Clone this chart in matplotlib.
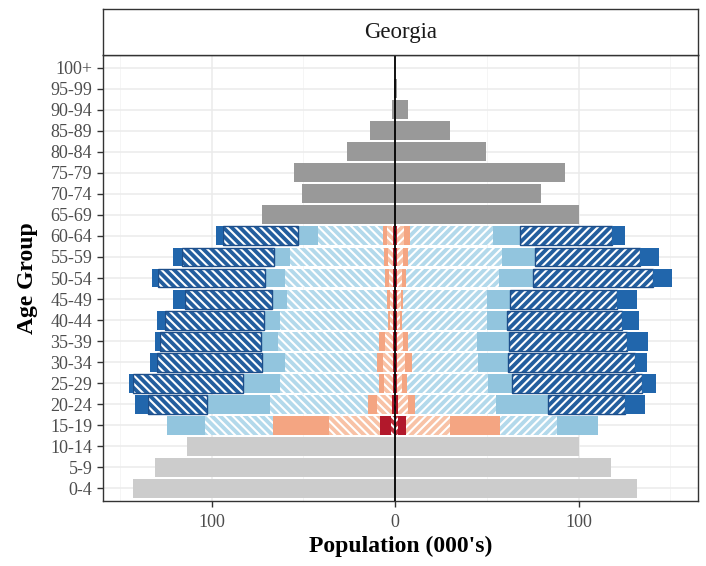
import matplotlib
matplotlib.use('Agg')
import matplotlib.pyplot as plt
import numpy as np

plt.rcParams['font.family'] = ['Liberation Serif', 'DejaVu Serif']
plt.rcParams['hatch.linewidth'] = 1.5

ages = ['0-4', '5-9', '10-14', '15-19', '20-24', '25-29', '30-34', '35-39',
        '40-44', '45-49', '50-54', '55-59', '60-64', '65-69', '70-74',
        '75-79', '80-84', '85-89', '90-94', '95-99', '100+']

# children (0-14) and elderly (65+), thousands
young_m = [142.6, 130.8, 113.5]
young_f = [131.7, 117.7, 100.0]
old_m = [72.5, 50.7, 55.0, 26.0, 13.6, 1.6, 0.5, 0.2]
old_f = [100.3, 79.6, 92.6, 49.6, 30.0, 6.9, 1.0, 0.2]

# working ages 15-19 .. 60-64, segments from centre outwards
m_red_h = [2.0, 0.5, 0.5, 0.5, 0.5, 0.5, 0.5, 0.5, 0.5, 0.5]
m_red_s = [6.2, 1.0, 0.8, 0.8, 0.8, 0.7, 0.7, 0.7, 0.8, 0.8]
m_org_h = [27.6, 8.5, 4.7, 5.2, 4.2, 1.3, 1.8, 2.3, 2.7, 2.9]
m_org_s = [30.5, 4.5, 3.0, 3.5, 3.5, 1.5, 1.5, 1.8, 2.2, 2.6]
m_lbl_h = [37.2, 53.6, 53.7, 49.9, 54.6, 58.7, 54.5, 54.6, 51.0, 35.0]
m_lbl_s = [20.9, 34.5, 20.3, 12.4, 9.6, 8.7, 7.9, 10.9, 8.7, 10.9]
m_dbl_h = [0.0, 31.8, 59.6, 57.2, 54.8, 53.9, 47.5, 58.2, 50.4, 40.9]
m_dbl_s = [0.0, 7.3, 2.4, 4.0, 2.8, 4.2, 6.4, 3.6, 4.9, 3.9]

f_red_h = [1.5, 0.5, 0.5, 0.5, 0.5, 0.5, 0.5, 0.5, 0.5, 0.5]
f_red_s = [4.5, 1.0, 0.8, 0.8, 0.8, 0.7, 0.7, 0.7, 0.8, 0.8]
f_org_h = [24.0, 5.5, 2.7, 4.2, 3.2, 1.3, 1.8, 2.8, 3.2, 3.7]
f_org_s = [27.2, 3.9, 2.4, 3.5, 2.8, 1.5, 1.5, 2.0, 2.5, 3.0]
f_lbl_h = [31.3, 44.1, 44.5, 36.0, 37.2, 46.0, 45.5, 50.7, 51.1, 45.6]
f_lbl_s = [22.3, 28.6, 12.7, 16.4, 17.5, 10.9, 12.7, 18.7, 18.2, 14.5]
f_dbl_h = [0.0, 41.7, 70.8, 69.4, 64.5, 62.6, 58.1, 65.4, 57.2, 50.0]
f_dbl_s = [0.0, 10.9, 7.6, 6.7, 11.3, 9.5, 10.9, 10.0, 10.4, 7.2]

# solid colour and the (paler) fill used under the white stripes
red, orange, lblue, dblue = '#b2182b', '#f4a582', '#92c5de', '#2166ac'
pale = {red: '#c0323f', orange: '#f8c2a6', lblue: '#b3d9eb', dblue: '#235e9e'}

fig = plt.figure(figsize=(7.06, 5.66), dpi=100)
ax = fig.add_axes([0.1455, 0.1148, 0.8432, 0.788])
strip = fig.add_axes([0.1455, 0.9028, 0.8432, 0.0808])

ypos = np.arange(len(ages))
y_young = ypos[0:3]
y_work = ypos[3:13]
y_old = ypos[13:]
bh = 0.9

ax.barh(y_young, young_m, left=-np.array(young_m), height=bh, color='#cccccc', lw=0)
ax.barh(y_young, young_f, height=bh, color='#cccccc', lw=0)
ax.barh(y_old, old_m, left=-np.array(old_m), height=bh, color='#999999', lw=0)
ax.barh(y_old, old_f, height=bh, color='#999999', lw=0)

segs_m = [(m_red_h, red, True), (m_red_s, red, False),
          (m_org_h, orange, True), (m_org_s, orange, False),
          (m_lbl_h, lblue, True), (m_lbl_s, lblue, False),
          (m_dbl_h, dblue, True), (m_dbl_s, dblue, False)]
segs_f = [(f_red_h, red, True), (f_red_s, red, False),
          (f_org_h, orange, True), (f_org_s, orange, False),
          (f_lbl_h, lblue, True), (f_lbl_s, lblue, False),
          (f_dbl_h, dblue, True), (f_dbl_s, dblue, False)]

for side, segs in ((-1, segs_m), (1, segs_f)):
    cum = np.zeros(len(y_work))
    for vals, col, hatched in segs:
        w = np.array(vals)
        left = cum if side > 0 else -(cum + w)
        if hatched:
            ax.barh(y_work, w, left=left, height=bh, color=pale[col],
                    edgecolor='white', lw=0,
                    hatch='////' if side > 0 else '\\\\\\\\')
            if col == dblue:
                mask = w > 0
                ax.barh(y_work[mask], w[mask], left=left[mask], height=bh,
                        fill=False, edgecolor='#1d4e8a', lw=1.0)
        else:
            ax.barh(y_work, w, left=left, height=bh, color=col, lw=0)
        cum = cum + w

ax.axvline(0, color='black', lw=1.3, zorder=5)

ax.set_xlim(-159.3, 165.1)
ax.set_ylim(-0.6, len(ages) - 0.4)
ax.set_xticks([-100, 0, 100])
ax.set_xticklabels(['100', '0', '100'])
ax.set_xticks([-150, -50, 50, 150], minor=True)
ax.set_yticks(ypos)
ax.set_yticklabels(ages)
ax.tick_params(axis='both', which='major', colors='#333333', labelcolor='#4d4d4d',
               labelsize=13, length=4, width=1)
ax.tick_params(axis='x', which='major', pad=5)
ax.tick_params(axis='x', which='minor', length=0)
ax.grid(True, which='major', color='#ebebeb', lw=1.1)
ax.grid(True, which='minor', axis='x', color='#f4f4f4', lw=0.6)
ax.set_axisbelow(True)
for s in ax.spines.values():
    s.set_color('#333333')
    s.set_linewidth(1.0)

ax.set_xlabel("Population (000's)", fontsize=17, fontweight='bold', labelpad=4)
ax.set_ylabel('Age Group', fontsize=17, fontweight='bold', labelpad=9)

strip.set_xticks([])
strip.set_yticks([])
strip.set_facecolor('white')
for s in strip.spines.values():
    s.set_color('#333333')
    s.set_linewidth(1.0)
strip.text(0.5, 0.5, 'Georgia', ha='center', va='center', fontsize=16.5,
           color='#1a1a1a', transform=strip.transAxes)

fig.savefig('out.png', dpi=100)
